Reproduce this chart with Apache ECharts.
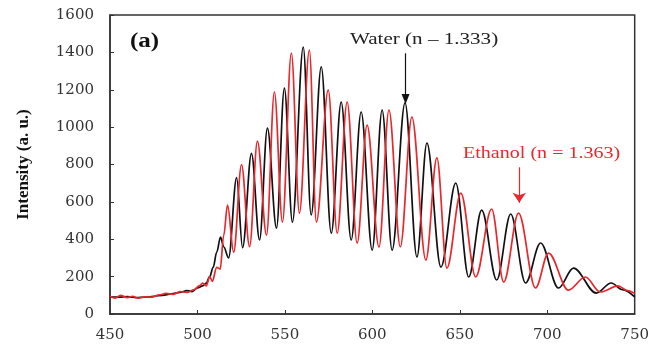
<!DOCTYPE html>
<html><head><meta charset="utf-8">
<script src="https://cdn.jsdelivr.net/npm/echarts@6/dist/echarts.min.js"></script>
<style>html,body{margin:0;padding:0;background:#fff}#c{width:652px;height:354px}</style>
</head><body><div id="c"></div><script>
// Tick labels
const xTicks = [450, 500, 550, 600, 650, 700, 750];
const yTicks = [0, 200, 400, 600, 800, 1000, 1200, 1400, 1600];

// Water (n = 1.333) — black
const waterNm = [450, 455, 460, 465, 470, 475, 480, 485, 490, 494, 497, 500, 503, 505, 507, 509, 511, 513.2, 515, 517.8,
  522.4, 525.8, 530.9, 535.5, 540, 545.2, 549.7, 554.3, 560.5, 565, 570.8, 576.5, 582.2, 587.9, 593.6, 599.9,
  605.6, 611.3, 618.7, 625.5, 631.2, 639.2, 647.7, 655.1, 662.5, 671.1, 679.1, 687.6, 696.2, 706.4, 715, 728,
  736.6, 743, 750];
const waterI = [92, 90, 93, 88, 90, 95, 100, 108, 115, 125, 120, 140, 150, 165, 200, 250, 330, 412, 360, 300,
  730, 355, 860, 396, 995, 460, 1209, 492, 1428, 530, 1322, 433, 1134, 396, 1081, 342,
  1091, 342, 1130, 305, 915, 251, 701, 198, 556, 182, 535, 166, 380, 139, 246, 112,
  166, 130, 91];

// Ethanol (n = 1.363) — red
const ethanolNm = [450, 453, 456, 460, 463, 466, 470, 474, 478, 482, 486, 490, 494, 498, 501, 503, 505, 507, 508.5, 511, 513,
  515, 517.2, 520.7, 525.2, 529.8, 534.3, 539.5, 544, 548.6, 553.7, 558.3, 564, 568, 574.8, 579.9, 585.6, 591.3,
  597, 603.8, 609.5, 616, 622.6, 630.6, 636.9, 642.6, 650.6, 659.1, 668.2, 675.1, 683.6, 693.3, 700.7, 712.1,
  721.8, 730.3, 740.6, 746, 750];
const ethanolI = [95, 85, 100, 88, 95, 85, 92, 90, 102, 110, 105, 120, 115, 130, 150, 165, 150, 200, 175, 250, 240,
  420, 583, 330, 800, 360, 925, 422, 1188, 492, 1396, 540, 1412, 492, 1198, 433, 1134, 380,
  1011, 358, 1091, 360, 1054, 289, 835, 246, 647, 198, 562, 171, 540, 139, 326, 128,
  198, 118, 150, 125, 110];

const zip = (a, b) => a.map((v, i) => [v, b[i]]);

const chart = echarts.init(document.getElementById('c'));
const serif = 'Liberation Serif';
chart.setOption({
  animation: false,
  backgroundColor: '#fff',
  grid: { left: 110, right: 15, top: 15, bottom: 40, show: true, borderColor: '#333', borderWidth: 1.5, backgroundColor: 'transparent' },
  xAxis: {
    type: 'value', min: xTicks[0], max: xTicks[xTicks.length - 1], interval: 50,
    axisLine: { lineStyle: { color: '#333', width: 1.5 } },
    axisTick: { inside: true, length: 4, lineStyle: { color: '#333' } },
    axisLabel: { color: '#333', fontFamily: 'DejaVu Serif', fontSize: 15, margin: 14, formatter: v => String(v) },
    splitLine: { show: false }
  },
  yAxis: {
    type: 'value', min: yTicks[0], max: yTicks[yTicks.length - 1], interval: 200,
    name: 'Intensity (a. u.)', nameLocation: 'middle', nameGap: 78,
    nameTextStyle: { fontFamily: serif, fontWeight: 'bold', fontSize: 17, color: '#111' },
    axisLine: { show: true, lineStyle: { color: '#333', width: 1.5 } },
    axisTick: { show: true, inside: true, length: 4, lineStyle: { color: '#333' } },
    axisLabel: { color: '#333', fontFamily: 'DejaVu Serif', fontSize: 15, margin: 16, formatter: v => String(v) },
    splitLine: { show: false }
  },
  series: [
    {
      name: 'Water', type: 'line', data: zip(waterNm, waterI), showSymbol: false,
      smooth: 0.35, smoothMonotone: 'x',
      lineStyle: { color: '#111', width: 1.7 }, z: 2,
      markLine: {
        silent: true, symbol: ['none', 'triangle'], symbolSize: [8, 10], symbolRotate: 180,
        label: { show: false },
        lineStyle: { color: '#111', width: 1.2, type: 'solid' },
        data: [[{ coord: [619, 1395] }, { coord: [619, 1150] }]]
      }
    },
    {
      name: 'Ethanol', type: 'line', data: zip(ethanolNm, ethanolI), showSymbol: false,
      smooth: 0.35, smoothMonotone: 'x',
      lineStyle: { color: '#e8282c', width: 1.7 }, z: 3,
      markLine: {
        silent: true, symbol: ['none', 'arrow'], symbolSize: 10,
        label: { show: false },
        lineStyle: { color: '#e8282c', width: 1.2, type: 'solid' },
        data: [[{ coord: [684, 785] }, { coord: [684, 595] }]]
      }
    }
  ],
  graphic: [
    { type: 'text', x: 130, y: 32, scaleX: 1.25, style: { text: '(a)', font: 'bold 20px "Liberation Serif"', fill: '#111' } },
    { type: 'text', x: 350, y: 31, scaleX: 1.24, style: { text: 'Water (n \u2013 1.333)', font: '17px "Liberation Serif"', fill: '#222' } },
    { type: 'text', x: 463, y: 145, scaleX: 1.18, style: { text: 'Ethanol (n = 1.363)', font: '17px "Liberation Serif"', fill: '#e8282c' } }
  ]
});
</script></body></html>
